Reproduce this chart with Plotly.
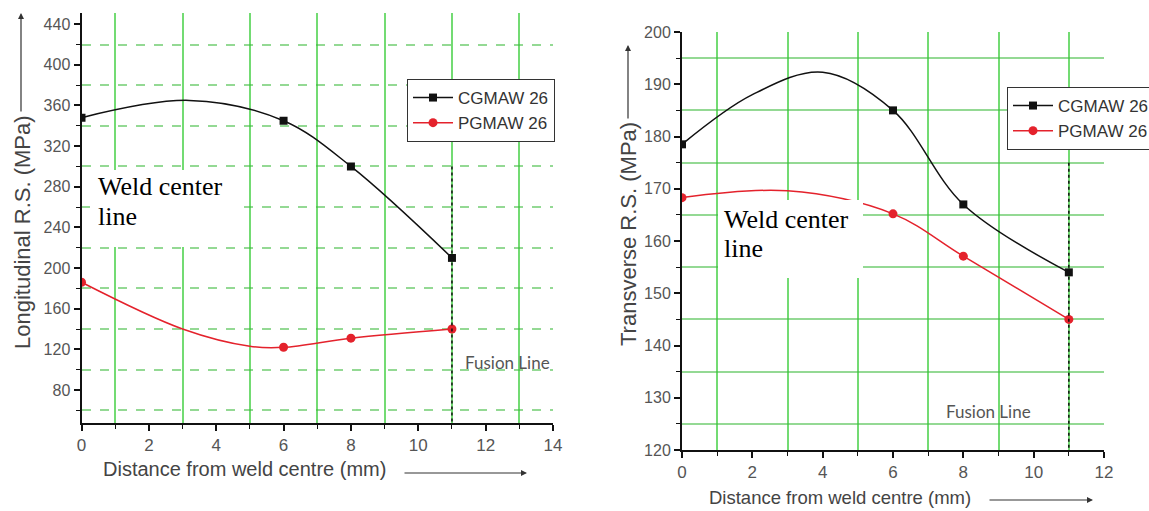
import plotly.graph_objects as go

W, H = 1149, 511

# ---------------- data ----------------
# Left panel: longitudinal residual stress (MPa)
long_x = [0, 6, 8, 11]
long_cg = [348, 345, 300, 210]
long_pg = [186, 122, 131, 140]
# points along the drawn smooth curves
long_cg_curve_x = [0, 3.2, 6, 8, 11]
long_cg_curve_y = [348, 365, 345, 300, 210]
long_pg_curve_x = [0, 3, 5, 6, 8, 11]
long_pg_curve_y = [186, 140, 123, 122, 131, 140]

# Right panel: transverse residual stress (MPa)
trans_x = [0, 6, 8, 11]
trans_cg = [178.5, 185, 167, 154]
trans_pg = [168.3, 165.2, 157.1, 145]
trans_cg_curve_x = [0, 2, 4, 6, 8, 11]
trans_cg_curve_y = [178.5, 188, 192.3, 185, 167, 154]
trans_pg_curve_x = [0, 3, 6, 8, 11]
trans_pg_curve_y = [168.3, 169.6, 165.2, 157.1, 145]

fusion_x = 11
series_names = ["CGMAW 26", "PGMAW 26"]
# tick spacing (major, minor) for each axis
left_x_ticks = (2, 1)
left_y_ticks = (40, 20)
right_x_ticks = (2, 1)
right_y_ticks = (10, 5)

# ---------------- styling ----------------
BLACK = "#111111"
RED = "#e4222c"
GRID_V = "rgba(40,200,40,0.65)"
GRID_H = "rgba(60,185,60,0.55)"
SANS = "Liberation Sans, Arial, sans-serif"
SERIF = "Liberation Serif, Times New Roman, serif"


def px(xp):
    return xp / W


def py(yp):
    return 1 - yp / H


fig = go.Figure()


def add_panel(xa, ya, lg, curve_cg, curve_pg, xs, cg, pg):
    fig.add_trace(go.Scatter(x=curve_cg[0], y=curve_cg[1], mode="lines",
                             line=dict(color=BLACK, width=1.5, shape="spline"),
                             showlegend=False, xaxis=xa, yaxis=ya, hoverinfo="skip"))
    fig.add_trace(go.Scatter(x=curve_pg[0], y=curve_pg[1], mode="lines",
                             line=dict(color=RED, width=1.5, shape="spline"),
                             showlegend=False, xaxis=xa, yaxis=ya, hoverinfo="skip"))
    fig.add_trace(go.Scatter(x=xs, y=cg, mode="markers", name=series_names[0],
                             marker=dict(symbol="square", size=8, color=BLACK),
                             showlegend=False, xaxis=xa, yaxis=ya))
    fig.add_trace(go.Scatter(x=xs, y=pg, mode="markers", name=series_names[1],
                             marker=dict(symbol="circle", size=9, color=RED),
                             showlegend=False, xaxis=xa, yaxis=ya))
    # legend entries
    fig.add_trace(go.Scatter(x=[None], y=[None], mode="lines+markers", name=series_names[0],
                             line=dict(color=BLACK, width=1.5),
                             marker=dict(symbol="square", size=8, color=BLACK),
                             legend=lg, xaxis=xa, yaxis=ya))
    fig.add_trace(go.Scatter(x=[None], y=[None], mode="lines+markers", name=series_names[1],
                             line=dict(color=RED, width=1.5),
                             marker=dict(symbol="circle", size=9, color=RED),
                             legend=lg, xaxis=xa, yaxis=ya))


add_panel("x", "y", "legend", (long_cg_curve_x, long_cg_curve_y),
          (long_pg_curve_x, long_pg_curve_y), long_x, long_cg, long_pg)
add_panel("x2", "y2", "legend2", (trans_cg_curve_x, trans_cg_curve_y),
          (trans_pg_curve_x, trans_pg_curve_y), trans_x, trans_cg, trans_pg)


def axis_common(spacing, gridcolor, griddash, domain, rng, size):
    major, minor = spacing
    return dict(
        domain=domain, range=rng, tickmode="linear", tick0=0, dtick=major,
        ticks="outside", ticklen=6, tickwidth=1.5, tickcolor=BLACK,
        showline=True, linecolor=BLACK, linewidth=2,
        showgrid=False, zeroline=False, automargin=False,
        tickfont=dict(family=SANS, size=size, color="#555555"),
        minor=dict(dtick=minor, tick0=0, ticks="outside", ticklen=4,
                   tickwidth=1.2, tickcolor=BLACK, showgrid=True,
                   gridcolor=gridcolor, gridwidth=1.5, griddash=griddash),
        fixedrange=True,
    )


L_Y_RANGE = [47.5, 451]
R_Y_RANGE = [120, 200]

fig.update_layout(
    width=W, height=H, autosize=False,
    margin=dict(l=0, r=0, t=0, b=0, autoexpand=False),
    paper_bgcolor="white", plot_bgcolor="white",
    xaxis=axis_common(left_x_ticks, GRID_V, "solid", [px(81.5), px(553)], [0, 14], 17),
    yaxis=axis_common(left_y_ticks, GRID_H, "dash", [py(423), py(13)], L_Y_RANGE, 16),
    xaxis2=dict(axis_common(right_x_ticks, GRID_V, "solid", [px(682), px(1104)], [0, 12], 17),
                anchor="y2"),
    yaxis2=dict(axis_common(right_y_ticks, GRID_H, "solid", [py(450), py(32)], R_Y_RANGE, 16),
                anchor="x2"),
    legend=dict(x=px(407), y=py(79), xanchor="left", yanchor="top",
                bgcolor="white", bordercolor="#333333", borderwidth=1,
                font=dict(family=SANS, size=17, color="#333333"),
                itemwidth=40, tracegroupgap=0),
    legend2=dict(x=px(1007), y=py(87), xanchor="left", yanchor="top",
                 bgcolor="white", bordercolor="#333333", borderwidth=1,
                 font=dict(family=SANS, size=17, color="#333333"),
                 itemwidth=40, tracegroupgap=0),
)

# Fusion lines (dashed, x = 11)
fig.add_shape(type="line", xref="x", yref="y", x0=fusion_x, x1=fusion_x,
              y0=300, y1=L_Y_RANGE[0], line=dict(color=BLACK, width=1.5, dash="dot"))
fig.add_shape(type="line", xref="x2", yref="y2", x0=fusion_x, x1=fusion_x,
              y0=175, y1=R_Y_RANGE[0], line=dict(color=BLACK, width=1.5, dash="dot"))

# White boxes behind "Weld center line" labels
fig.add_shape(type="rect", xref="paper", yref="paper", x0=px(90), x1=px(237),
              y0=py(247), y1=py(170), fillcolor="white", line=dict(width=0), layer="above")
fig.add_shape(type="rect", xref="paper", yref="paper", x0=px(718), x1=px(863),
              y0=py(278), y1=py(200), fillcolor="white", line=dict(width=0), layer="above")

ann = []


def text_ann(x, y, text, size, family, color="#000000", angle=0, xanchor="center"):
    ann.append(dict(x=px(x), y=py(y), xref="paper", yref="paper", text=text,
                    showarrow=False, textangle=angle, xanchor=xanchor, yanchor="middle",
                    font=dict(family=family, size=size, color=color)))


def arrow_ann(xh, yh, xt, yt):
    ann.append(dict(x=px(xh), y=py(yh), xref="paper", yref="paper", text="",
                    showarrow=True, ax=xt - xh, ay=yt - yh, axref="pixel", ayref="pixel",
                    arrowhead=2, arrowsize=1, arrowwidth=1.2, arrowcolor="#333333"))


# Weld center line labels
text_ann(96, 186, "Weld center", 26, SERIF, xanchor="left")
text_ann(96, 217, "line", 26, SERIF, xanchor="left")
text_ann(722, 219, "Weld center", 26, SERIF, xanchor="left")
text_ann(722, 249, "line", 26, SERIF, xanchor="left")

# Fusion Line labels
text_ann(507, 362, "Fusion Line", 17, "Lato, sans-serif", color="#555555")
text_ann(988, 411, "Fusion Line", 17, "Lato, sans-serif", color="#555555")

# Axis titles
text_ann(244, 469, "Distance from weld centre (mm)", 20, SANS, color="#444444")
text_ann(840, 497, "Distance from weld centre (mm)", 18.5, SANS, color="#444444")
text_ann(22, 232, "Longitudinal R.S. (MPa)", 22, SANS, color="#444444", angle=-90)
text_ann(628, 234, "Transverse R.S. (MPa)", 22, SANS, color="#444444", angle=-90)

# Arrows next to axis titles
arrow_ann(21, 13, 21, 113)
arrow_ann(628, 45, 628, 120)
arrow_ann(527, 473, 403, 473)
arrow_ann(1093, 500, 988, 500)

fig.update_layout(annotations=ann)

fig.write_html("out.html")
